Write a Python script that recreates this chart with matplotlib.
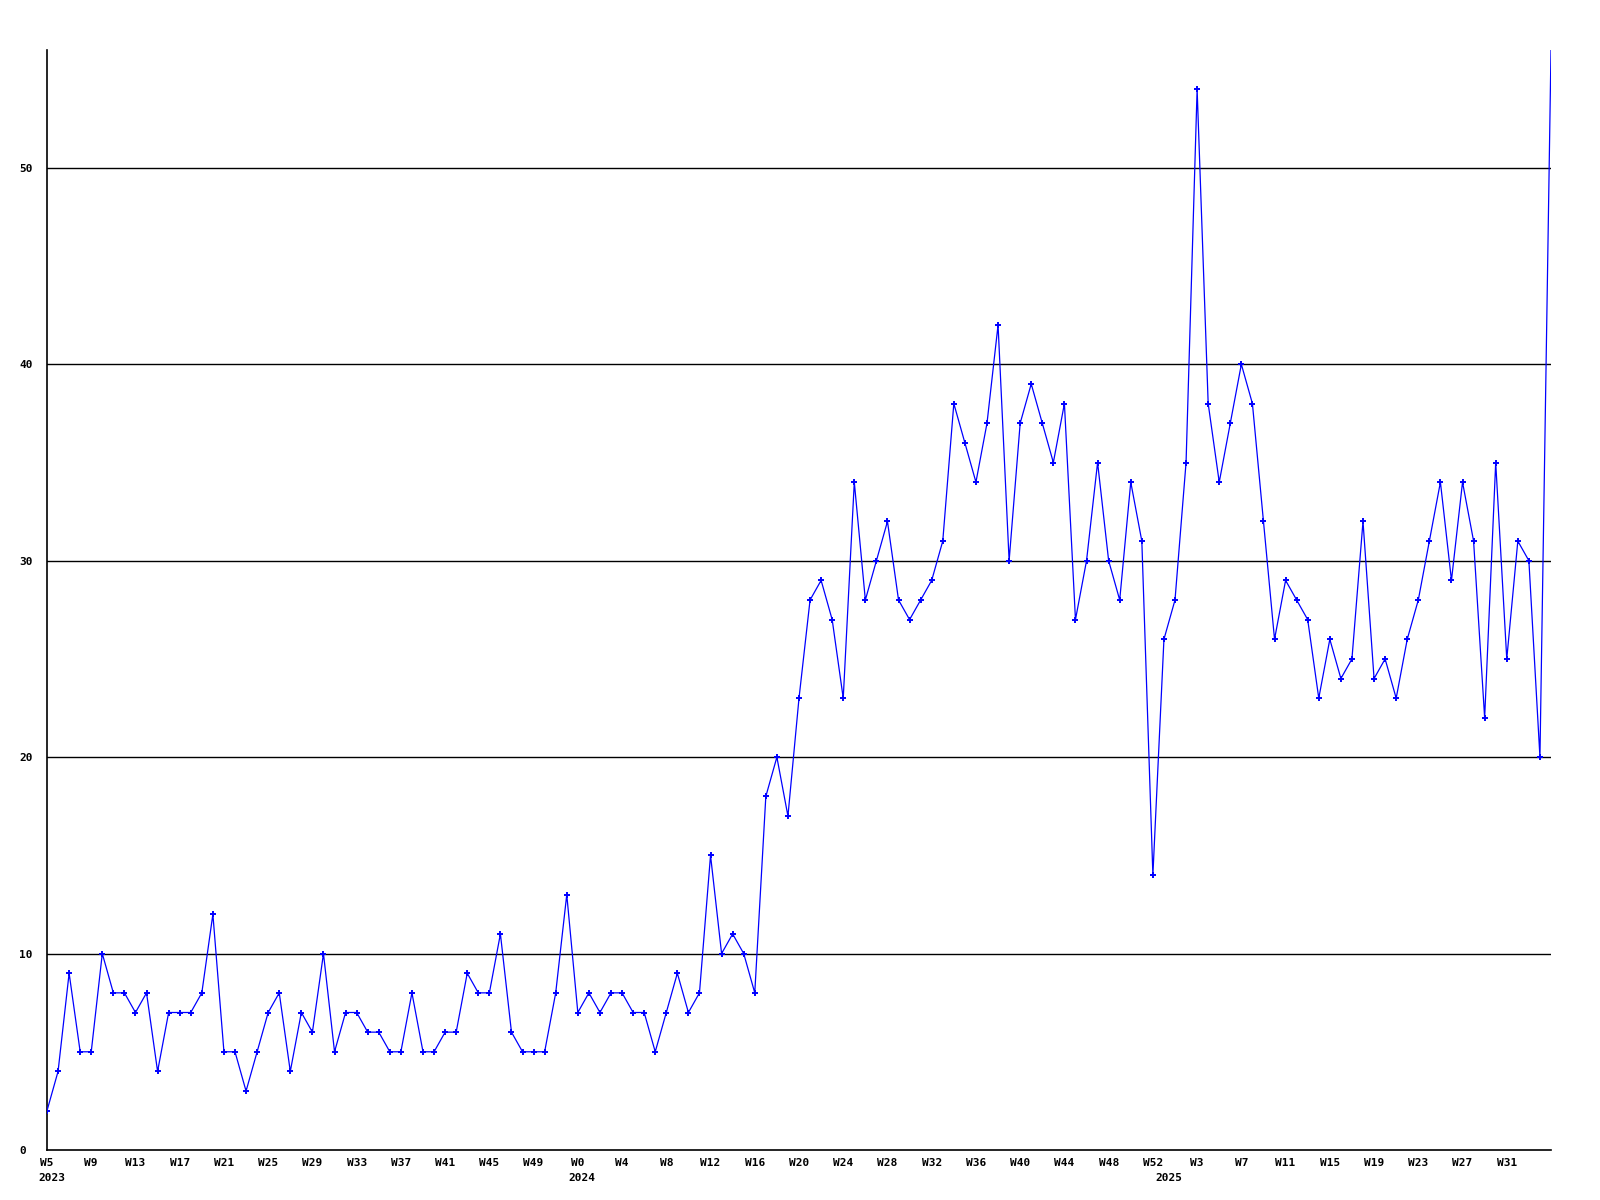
import matplotlib
matplotlib.use("Agg")
import matplotlib.pyplot as plt
import matplotlib.transforms as mtransforms

# weekly counts, 2023 W5 .. 2025 W35
values = [2, 4, 9, 5, 5, 10, 8, 8, 7, 8, 4, 7, 7, 7, 8, 12, 5, 5, 3, 5,
          7, 8, 4, 7, 6, 10, 5, 7, 7, 6, 6, 5, 5, 8, 5, 5, 6, 6, 9, 8,
          8, 11, 6, 5, 5, 5, 8, 13,
          7, 8, 7, 8, 8, 7, 7, 5, 7, 9, 7, 8, 15, 10, 11, 10, 8, 18, 20, 17,
          23, 28, 29, 27, 23, 34, 28, 30, 32, 28, 27, 28, 29, 31, 38, 36, 34, 37,
          42, 30, 37, 39, 37, 35, 38, 27, 30, 35, 30, 28, 34, 31, 14,
          26, 28, 35, 54, 38, 34, 37, 40, 38, 32, 26, 29, 28, 27, 23, 26, 24,
          25, 32, 24, 25, 23, 26, 28, 31, 34, 29, 34, 31, 22, 35, 25, 31, 30,
          20, 56]
week_numbers = list(range(5, 53)) + list(range(0, 53)) + list(range(0, 36))
years = ["2023"] * 48 + ["2024"] * 53 + ["2025"] * 36
y_ticks = [0, 10, 20, 30, 40, 50]

x = list(range(len(values)))
font = dict(family="DejaVu Sans Mono", weight="bold", size=8)

fig = plt.figure(figsize=(16, 12), dpi=100)
ax = fig.add_axes([47 / 1600, 50 / 1200, 1504 / 1600, 1100 / 1200])

for yv in y_ticks[1:]:
    ax.axhline(yv, color="black", linewidth=1, zorder=1)

# last point sits on the top edge, no marker shown there
ax.plot(x, values, color="#0000ff", linewidth=0.9, marker="+", markersize=4,
        markeredgewidth=1.4, markevery=list(range(len(values) - 1)), zorder=3)

ax.set_xlim(0, len(values) - 1)
ax.set_ylim(0, 56)

for side in ["top", "right"]:
    ax.spines[side].set_visible(False)
ax.spines["left"].set_linewidth(1.2)
ax.spines["bottom"].set_linewidth(1.2)

ax.set_yticks(y_ticks)
ax.set_yticklabels([str(v) for v in y_ticks], fontdict=font, ha="left")
ax.tick_params(axis="y", length=0, pad=20)

tick_idx = list(range(0, len(values) - 1, 4))
ax.set_xticks(tick_idx)
ax.set_xticklabels(["W%d" % week_numbers[i] for i in tick_idx], fontdict=font)
ax.tick_params(axis="x", length=0, pad=6)

# year labels under the first week of each year
trans = mtransforms.blended_transform_factory(ax.transData, ax.transAxes)
seen = []
for i, yr in enumerate(years):
    if yr not in seen:
        seen.append(yr)
        ax.annotate(yr, xy=(i, 0), xycoords=trans, xytext=(-6.5, -16.5),
                    textcoords="offset points", ha="left", va="top", **font)

fig.savefig("out.png", dpi=100)
